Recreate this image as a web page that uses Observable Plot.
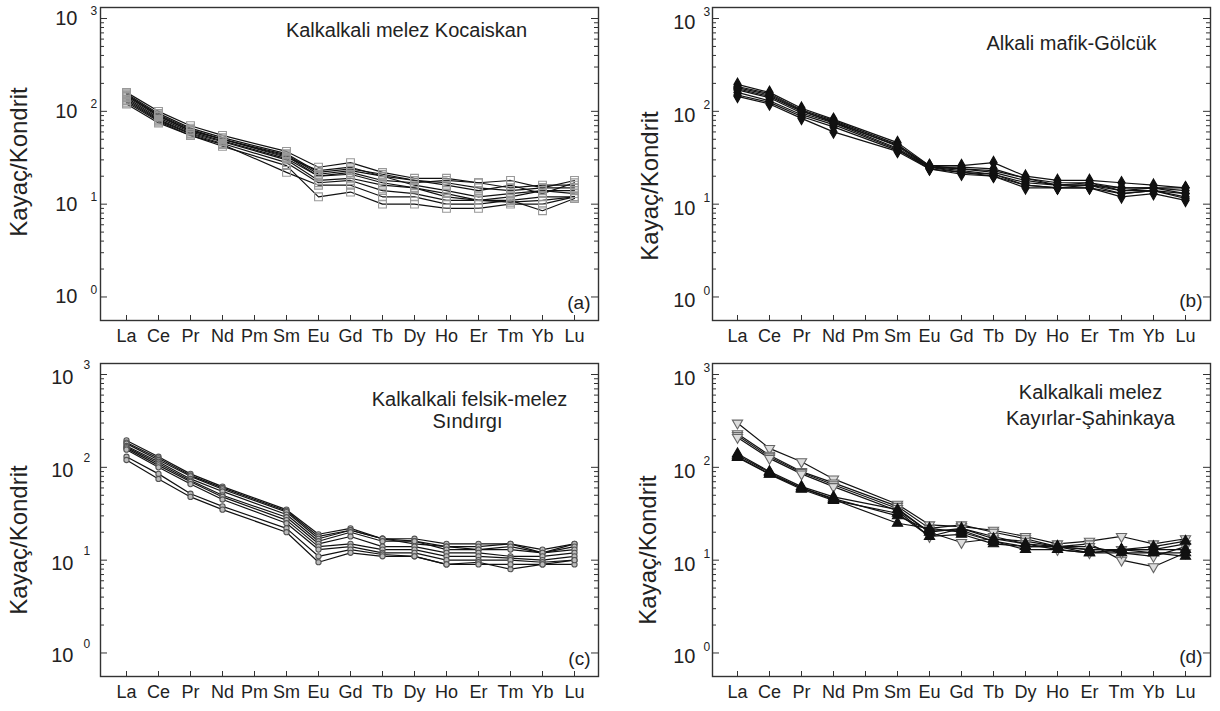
<!DOCTYPE html>
<html><head><meta charset="utf-8">
<script src="https://cdn.jsdelivr.net/npm/d3@7"></script>
<script src="https://cdn.jsdelivr.net/npm/@observablehq/plot@0.6"></script>
<style>
body{margin:0;background:#fff;}
#wrap{position:relative;width:1220px;height:711px;overflow:hidden;}
.panel{position:absolute;}
</style></head><body><div id="wrap"></div>
<script>
// REE element order (Pm not analysed -> null)
const elements = ["La","Ce","Pr","Nd","Pm","Sm","Eu","Gd","Tb","Dy","Ho","Er","Tm","Yb","Lu"];
const yDecades = [1, 10, 100, 1000];
const yDecadeExp = ["0", "1", "2", "3"];
const yLabel = "Kayaç/Kondrit";

// (a) Kalkalkali melez Kocaiskan
const kocaiskan = [
  [160,100,70,55,null,37,25,28,22,19,19,17,18,15,18],
  [155,95,66,52,null,35,22,24,21,18,17,15,14,15,15],
  [150,92,64,50,null,34,21,23,20,16,14,12,13,14,14],
  [145,88,62,50,null,33,20,22,18,17,18,17,15,16,16],
  [140,85,60,48,null,31,20,21,17,15,13,11,12,14,13],
  [135,82,58,47,null,30,18,19,16,15,12,11,11,12,12],
  [130,80,57,45,null,28,17,18,14,13,11,11,10.5,11,12],
  [125,78,55,44,null,22,16,16,12,12,10,10,11,8.5,11.5],
  [120,75,55,42,null,26,12,13.5,10,10,9,9,10,10,12],
  [150,90,62,50,null,32,23,25,20,18,16,14,16,13,17]
];
// (b) Alkali mafik-Gölcük
const golcuk = [
  [195,160,108,82,null,46,26,26,28,20,18,18,17,16,15],
  [185,155,104,80,null,44,25,25,24,19,17,17,15,15,15],
  [175,145,100,78,null,42,25,24,22,18,16,17,14,15,14],
  [170,140,96,75,null,40,25,23,21,17,16,16,13,14,13],
  [160,130,92,72,null,39,24,22,21,16,15,16,14,14,12],
  [150,125,88,68,null,38,25,22,20,16,15,15,12,13,11],
  [145,120,84,60,null,37,24,21,20,15,15,15,13,14,11.5],
  [180,150,102,76,null,43,26,24,23,19,16,16,15,15,13]
];
// (c) Kalkalkali felsik-melez Sındırgı
const sindirgi = [
  [195,130,85,62,null,35,19,22,17,17,15,15,15,12,15],
  [185,125,82,60,null,34,18,21,17,16,14,14,15,13,15],
  [180,120,80,58,null,33,17,21,17,15,14,13,14,12,14],
  [170,115,75,55,null,31,16,20,16,16,13,13,13,12,13],
  [165,110,72,50,null,29,15,18,14,14,12,12,11,11,12],
  [160,105,70,48,null,27,14,15,13,13,11,11,10.5,10,11],
  [155,100,66,45,null,25,13,14,12,12,10,10,10,9.5,10],
  [130,85,52,38,null,22,11,13,11.5,11,9,9.5,8,9,9],
  [120,75,48,35,null,20,9.5,12,11,11,9,9,9,9,10]
];
// (d) Kalkalkali melez Kayırlar-Şahinkaya : open (down triangles) and filled (up triangles)
const sahinkayaOpen = [
  [300,160,115,75,null,40,24,23,21,18,15,16,18,15,17],
  [230,135,90,68,null,38,22,24,20,17,14,15,10,8.5,12],
  [220,130,88,65,null,36,20,15.5,17,16,14,14,12,11,14],
  [210,125,85,62,null,34,18,22,18,15,13,12,13,13,15]
];
const sahinkayaFilled = [
  [140,90,62,48,null,35,20,22,17,15,14,13,13,14,16],
  [135,88,60,46,null,30,21,21,16,14,14,12,13,13,13],
  [130,85,60,45,null,25,22,20,16,13,13,12,12,12,12],
  [128,84,58,44,null,32,18,19,15,14,14,13,13,12,11]
];

const titleA = ["Kalkalkali melez Kocaiskan"];
const titleB = ["Alkali mafik-Gölcük"];
const titleC = ["Kalkalkali felsik-melez", "Sındırgı"];
const titleD = ["Kalkalkali melez", "Kayırlar-Şahinkaya"];

function tidy(series, group) {
  const out = [];
  series.forEach((s, i) => s.forEach((v, j) => {
    if (v != null) out.push({id: group + i, el: elements[j], v});
  }));
  return out;
}
const minorTicks = [];
for (const d of [1, 10, 100]) for (let k = 2; k <= 9; k++) minorTicks.push(d * k);

const configs = [
  {left: 0, top: 0, mL: 100, mR: 12, xInset: 23, xInsetR: 21, letter: "(a)", letterDy: -18,
   title: titleA, tDx: [57], tDy: [23], tenDx: -23, tenDy: 0, expDx: -10, expDy: -7, ylDx: -81, ylDy: -2,
   groups: [{name: "a", series: kocaiskan, symbol: "square", r: 4.4, fill: "none", stroke: "#999"}]},
  {left: 610, top: 0, mL: 102, mR: 10, xInset: 22, xInsetR: 22, letter: "(b)", letterDy: -20,
   title: titleB, tDx: [110], tDy: [36], tenDx: -17, tenDy: 4, expDx: -9, expDy: -6, ylDx: -62, ylDy: 22,
   groups: [{name: "b", series: golcuk, symbol: "diamond", r: 3.8, fill: "#111", stroke: "#111"}]},
  {left: 0, top: 356, mL: 100, mR: 12, xInset: 23, xInsetR: 21, letter: "(c)", letterDy: -18,
   title: titleC, tDx: [120, 118], tDy: [36, 58], tenDx: -27, tenDy: 3, expDx: -17, expDy: -9, ylDx: -81, ylDy: 20,
   groups: [{name: "c", series: sindirgi, symbol: "circle", r: 2.6, fill: "#bbb", stroke: "#555"}]},
  {left: 610, top: 356, mL: 102, mR: 10, xInset: 22, xInsetR: 22, letter: "(d)", letterDy: -20,
   title: titleD, tDx: [129, 129], tDy: [29, 55], tenDx: -17, tenDy: 4, expDx: -9, expDy: -6, ylDx: -64, ylDy: 30,
   groups: [
     {name: "do", series: sahinkayaOpen, symbol: "triangle", r: 3.8, fill: "#ddd", stroke: "#666", rotate: 180},
     {name: "df", series: sahinkayaFilled, symbol: "triangle", r: 3.8, fill: "#111", stroke: "#111"}
   ]}
];

const wrap = document.getElementById("wrap");
for (const c of configs) {
  const W = 610, H = 355, mT = 7, mB = 35;
  const fh = H - mT - mB, fw = W - c.mL - c.mR;
  const marks = [];
  for (const g of c.groups) {
    const data = tidy(g.series, g.name);
    marks.push(Plot.line(data, {x: "el", y: "v", z: "id", stroke: "#111", strokeWidth: 1.2}));
    marks.push(Plot.dot(data, {x: "el", y: "v", symbol: g.symbol, r: g.r, fill: g.fill, stroke: g.stroke, strokeWidth: 1.1, rotate: g.rotate || 0}));
  }
  marks.push(Plot.frame({stroke: "#333", strokeWidth: 1.4}));
  marks.push(Plot.tickY(yDecades, {y: d => d, stroke: "#333", insetRight: fw - 7}));
  marks.push(Plot.tickY(yDecades, {y: d => d, stroke: "#333", insetLeft: fw - 7}));
  marks.push(Plot.tickY(minorTicks, {y: d => d, stroke: "#333", insetRight: fw - 4}));
  marks.push(Plot.tickY(minorTicks, {y: d => d, stroke: "#333", insetLeft: fw - 4}));
  marks.push(Plot.tickX(elements, {x: d => d, stroke: "#333", insetTop: fh - 5}));
  marks.push(Plot.axisX({tickSize: 0, tickPadding: 9, fontSize: 18, tickFormat: d => d, label: null}));
  marks.push(Plot.text(yDecades, {y: d => d, frameAnchor: "left", text: () => "10", textAnchor: "end", dx: c.tenDx, dy: c.tenDy, fontSize: 20}));
  marks.push(Plot.text(yDecades, {y: d => d, frameAnchor: "left", text: (d, i) => yDecadeExp[i], textAnchor: "start", dx: c.expDx, dy: c.expDy, fontSize: 12}));
  marks.push(Plot.text([yLabel], {frameAnchor: "left", text: d => d, rotate: -90, textAnchor: "middle", lineAnchor: "middle", dx: c.ylDx, dy: c.ylDy, fontSize: 24}));
  c.title.forEach((line, i) => {
    marks.push(Plot.text([line], {frameAnchor: "top", text: d => d, textAnchor: "middle", lineAnchor: "middle", dx: c.tDx[i], dy: c.tDy[i], fontSize: 20}));
  });
  marks.push(Plot.text([c.letter], {frameAnchor: "bottom-right", text: d => d, textAnchor: "end", lineAnchor: "middle", dx: -8, dy: c.letterDy, fontSize: 19}));
  const plot = Plot.plot({
    width: W, height: H,
    marginLeft: c.mL, marginRight: c.mR, marginTop: mT, marginBottom: mB,
    style: {fontFamily: "'Liberation Sans', Arial, sans-serif", color: "#222", background: "transparent", overflow: "visible"},
    x: {type: "point", domain: elements, range: [c.mL + c.xInset, W - c.mR - c.xInsetR], padding: 0, axis: null},
    y: {type: "log", domain: [0.558, 1314], axis: null},
    marks
  });
  plot.classList.add("panel");
  plot.style.left = c.left + "px";
  plot.style.top = c.top + "px";
  wrap.appendChild(plot);
}
</script></body></html>
